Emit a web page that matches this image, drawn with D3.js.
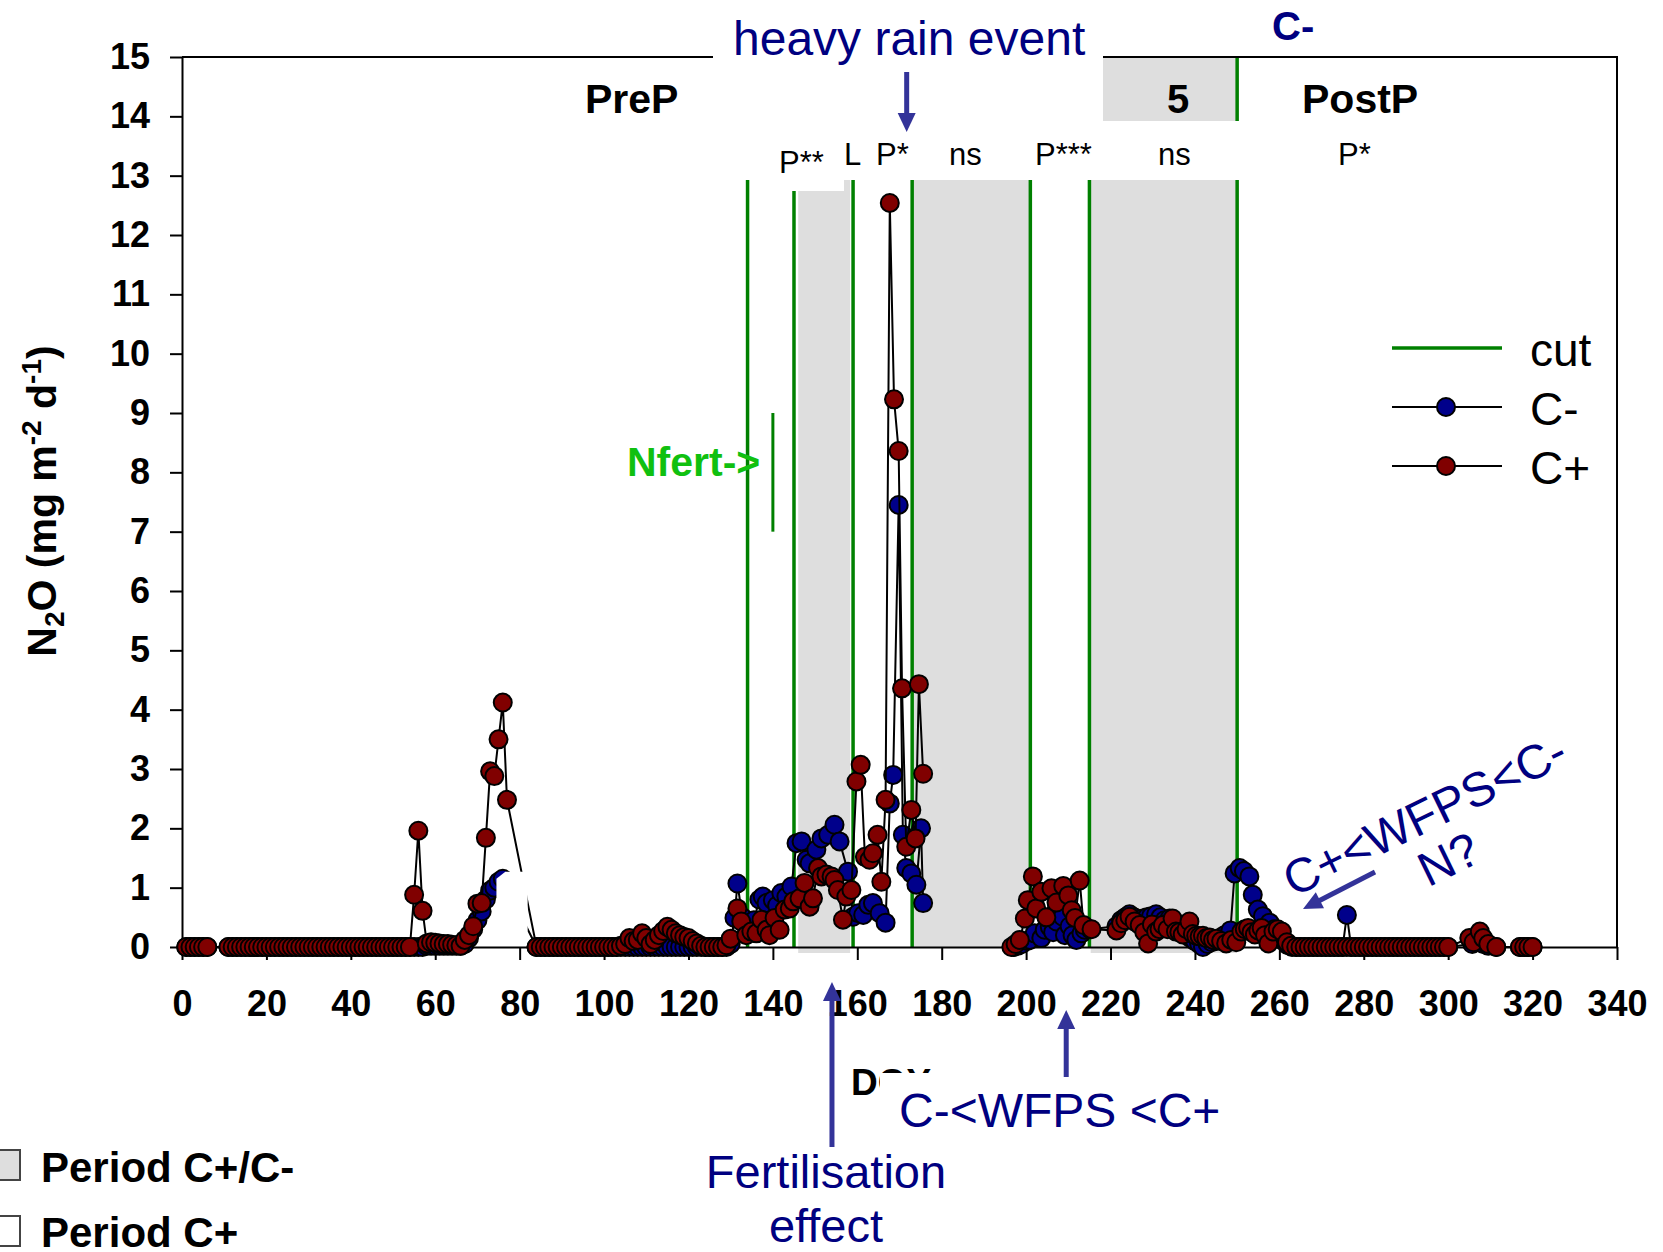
<!DOCTYPE html>
<html>
<head>
<meta charset="utf-8">
<script src="https://cdn.jsdelivr.net/npm/d3@7"></script>
<style>
  body { margin: 0; background: #fff; }
  svg { display: block; font-family: "Liberation Sans", Arial, sans-serif; }
  text { white-space: pre; }
</style>
</head>
<body>
<svg width="1663" height="1252"></svg>
<script>
// Daily N2O flux, C- (navy) and C+ (dark red). null breaks the line.
const doyCminus = [
  1, 2, 3, 4, 5, 6,
  11, 12, 13, 14, 15, 16, 17, 18, 19, 20,
  21, 22, 23, 24, 25, 26, 27, 28, 29, 30,
  31, 32, 33, 34, 35, 36, 37, 38, 39, 40,
  41, 42, 43, 44, 45, 46, 47, 48, 49, 50,
  51, 52, 53, 54, 55, 56, 57,
  58, 59, 60, 61, 62, 63, 64, 65, 66,
  67, 68, 69, 70, 71, 72, 73, 74, 75, 76, 77,
  84, 85, 86, 87, 88, 89, 90, 91, 92, 93,
  94, 95, 96, 97, 98, 99, 100, 101, 102, 103,
  104, 105, 106, 107, 108, 109, 110, 111, 112, 113,
  114, 115, 116, 117, 118, 119, 120, 121, 122, 123,
  124, 125, 126, 127, 128, 129, 130,
  130.9, 131.6, 132.8, 134, 135.5, 136.8, 137.6, 138.5, 140, 141,
  142, 143.2, 144.4, 145.6, 146.8, 148, 148.7, 150.3, 151.5, 153.1,
  154.6, 155.8, 157.8, 159, 160.2, 161.4, 162.6, 163.7, 165.3, 166.7,
  167.7, 168.5, 169.8, 170.8, 171.6, 172.8, 174, 175.1, 175.6,
  186,
  197, 198, 199, 200.2, 200.9, 202, 203.6, 204.4, 205.6, 206.4,
  207.2, 208.7, 209.2, 210.3, 211, 211.9, 213.1, 213.9, 215.2,
  221.4, 222.5, 223.5, 224.5, 225.6, 226.6, 227.6, 228.6, 229.6, 230.8,
  231.8, 232.8, 234, 235, 236, 237, 238, 239, 240, 241,
  241.9, 243, 244, 245, 246, 247, 248.4, 249.4, 250.6, 251.6,
  252.9, 253.7, 254.9, 256.1, 257.7, 258.8, 260, 261, 262,
  263, 264, 265, 266, 267, 268, 269, 270, 271, 272,
  273, 274, 275, 276, 277, 278, 279, 280, 281, 282,
  283, 284, 285, 286, 287, 288, 289, 290, 291, 292,
  293, 294, 295, 296, 297, 298, 299, 300,
  305.7, 307, 308.3, 309.5, 311.4,
  317, 318, 319, 320
];
const n2oCminus = [
  0, 0, 0, 0, 0, 0,
  0, 0, 0, 0, 0, 0, 0, 0, 0, 0,
  0, 0, 0, 0, 0, 0, 0, 0, 0, 0,
  0, 0, 0, 0, 0, 0, 0, 0, 0, 0,
  0, 0, 0, 0, 0, 0, 0, 0, 0, 0,
  0, 0, 0, 0, 0, 0, 0,
  0.02, 0.02, 0.02, 0.02, 0.02, 0.02, 0.02, 0.02, 0.02,
  0.05, 0.15, 0.3, 0.45, 0.6, 0.8, 0.95, 1.0, 1.1, 1.15, 1.0,
  0, 0, 0, 0, 0, 0, 0, 0, 0, 0,
  0, 0, 0, 0, 0, 0, 0, 0, 0, 0,
  0, 0, 0, 0, 0, 0, 0, 0, 0, 0,
  0, 0, 0, 0, 0, 0, 0, 0, 0, 0,
  0, 0, 0, 0, 0, 0, 0.05,
  0.49, 1.07, 0.5, 0.3, 0.45, 0.8, 0.85, 0.74, 0.79, 0.7,
  0.91, 0.85, 1.02, 1.75, 1.78, 1.47, 1.41, 1.64, 1.83, 1.89,
  2.06, 1.78, 1.27, 0.51, 0.57, 0.54, 0.71, 0.74, 0.57, 0.41,
  2.42, 2.9, 7.45, 1.89, 1.33, 1.24, 1.05, 2.0, 0.74,
  null,
  0, 0.02, 0.05, 0.1, 0.12, 0.23, 0.15, 0.29, 0.34, 0.25,
  0.43, 0.51, 0.2, 0.35, 0.2, 0.12, 0.23, 0.29, 0.3,
  0.35, 0.45, 0.5, 0.55, 0.5, 0.45, 0.48, 0.5, 0.52, 0.55,
  0.5, 0.45, 0.48, 0.4, 0.3, 0.25, 0.2, 0.15, 0.1, 0.05,
  0, 0.05, 0.08, 0.1, 0.15, 0.2, 0.28, 1.24, 1.33, 1.28,
  1.19, 0.88, 0.63, 0.52, 0.41, 0.3, 0.2, 0.1, 0.03,
  0, 0, 0, 0, 0, 0, 0, 0, 0, 0,
  0, 0, 0, 0.54, 0, 0, 0, 0, 0, 0,
  0, 0, 0, 0, 0, 0, 0, 0, 0, 0,
  0, 0, 0, 0, 0, 0, 0, 0,
  0.05, 0.1, 0.05, 0.02, 0,
  0, 0, 0, 0
];

const doyCplus = [
  1, 2, 3, 4, 5, 6,
  11, 12, 13, 14, 15, 16, 17, 18, 19, 20,
  21, 22, 23, 24, 25, 26, 27, 28, 29, 30,
  31, 32, 33, 34, 35, 36, 37, 38, 39, 40,
  41, 42, 43, 44, 45, 46, 47, 48, 49, 50,
  51, 52, 53, 54,
  55, 56, 57,
  58, 59, 60, 61, 62, 63, 64, 65, 66,
  67, 68, 69, 70, 71, 72, 73, 74, 75, 76, 77,
  84, 85, 86, 87, 88, 89, 90, 91, 92, 93,
  94, 95, 96, 97, 98, 99, 100, 101, 102, 103,
  104, 105, 106, 107, 108, 109, 110, 111, 112, 113,
  114, 115, 116, 117, 118, 119, 120, 121, 122, 123,
  124, 125, 126, 127, 128, 129, 130,
  131.6, 132.5, 133.7, 134.9, 136.1, 137.3, 138.5, 139.2, 140.4, 141.6,
  142.8, 144, 144.8, 146.3, 147.5, 148.7, 149.5, 150.7, 151.5, 152.7,
  153.9, 154.6, 155.4, 156.6, 157.4, 158.6, 159.8, 160.8, 161.8, 162.9,
  163.7, 164.8, 165.7, 166.7, 167.7, 168.7, 169.8, 170.6, 171.6, 172.8,
  173.8, 174.6, 175.6,
  186,
  196.5, 197.5, 198.5, 199.7, 200.4, 201.6, 202.4, 203.6, 204.8, 206,
  207.2, 208.8, 210, 210.8, 211.6, 212.7, 213.6, 215.5,
  221.4, 222.5, 223.5, 224.5, 225.7, 226.9, 228, 228.9, 229.8, 230.8,
  231.6, 232.4, 233.5, 234.7, 235.5, 236.3, 237.1, 238, 238.7, 239.5,
  240.3, 241.1, 241.9, 242.7, 243.5, 244.3, 245.1, 246.2, 247.4, 248.6,
  249.8, 251, 251.8, 252.6, 253.4, 254.2, 255, 255.8, 256.6, 257.4,
  258.6, 259.6, 260.6, 261.8, 262.8,
  264, 265, 266, 267, 268, 269, 270, 271, 272, 273,
  274, 275, 276, 277, 278, 279, 280, 281, 282, 283,
  284, 285, 286, 287, 288, 289, 290, 291, 292, 293,
  294, 295, 296, 297, 298, 299, 300,
  305, 306, 307.5, 308.3, 309.5, 311.4,
  317, 318, 319, 320
];
const n2oCplus = [
  0, 0, 0, 0, 0, 0,
  0, 0, 0, 0, 0, 0, 0, 0, 0, 0,
  0, 0, 0, 0, 0, 0, 0, 0, 0, 0,
  0, 0, 0, 0, 0, 0, 0, 0, 0, 0,
  0, 0, 0, 0, 0, 0, 0, 0, 0, 0,
  0, 0, 0, 0,
  0.88, 1.96, 0.61,
  0.06, 0.08, 0.07, 0.06, 0.05, 0.05, 0.04, 0.03, 0.02,
  0.12, 0.2, 0.35, 0.73, 0.74, 1.84, 2.96, 2.88, 3.5, 4.12, 2.48,
  0, 0, 0, 0, 0, 0, 0, 0, 0, 0,
  0, 0, 0, 0, 0, 0, 0, 0, 0, 0,
  0.02, 0.05, 0.15, 0.1, 0.12, 0.23, 0.15, 0.05, 0.12, 0.2,
  0.27, 0.34, 0.29, 0.23, 0.2, 0.17, 0.15, 0.1, 0.06, 0.02,
  0, 0, 0, 0, 0, 0.03, 0.14,
  0.65, 0.43, 0.2, 0.26, 0.23, 0.46, 0.29, 0.2, 0.49, 0.29,
  0.63, 0.65, 0.77, 0.82, 1.08, 0.68, 0.82, 1.33, 1.19, 1.22,
  1.19, 1.13, 0.96, 0.46, 0.85, 0.96, 2.79, 3.07, 1.52, 1.47,
  1.58, 1.89, 1.1, 2.48, 12.54, 9.23, 8.36, 4.36, 1.69, 2.31,
  1.83, 4.43, 2.92,
  null,
  0, 0.05, 0.12, 0.48, 0.79, 1.19, 0.65, 0.93, 0.5, 0.99,
  0.75, 1.03, 0.87, 0.62, 0.49, 1.12, 0.37, 0.3,
  0.28, 0.4, 0.45, 0.51, 0.43, 0.37, 0.25, 0.06, 0.38, 0.26,
  0.3, 0.37, 0.3, 0.48, 0.26, 0.25, 0.21, 0.3, 0.43, 0.22,
  0.19, 0.18, 0.19, 0.15, 0.16, 0.12, 0.14, 0.1, 0.06, 0.12,
  0.08, 0.26, 0.3, 0.32, 0.25, 0.21, 0.28, 0.32, 0.2, 0.06,
  0.26, 0.3, 0.26, 0.08, 0.02,
  0, 0, 0, 0, 0, 0, 0, 0, 0, 0,
  0, 0, 0, 0, 0, 0, 0, 0, 0, 0,
  0, 0, 0, 0, 0, 0, 0, 0, 0, 0,
  0, 0, 0, 0, 0, 0, 0,
  0.15, 0.08, 0.26, 0.15, 0.05, 0,
  0, 0, 0, 0
];

const cutDoys = [134, 145, 159, 173, 201, 215, 250];
const periods = [[146, 158.3], [173.3, 201], [215.3, 249.8]];  // Period C+/C- shading
const nfertMark = [140, 7, 9];  // doy, from, to
const xTicks = [0, 20, 40, 60, 80, 100, 120, 140, 160, 180, 200, 220, 240, 260, 280, 300, 320, 340];
const yTicks = [0, 1, 2, 3, 4, 5, 6, 7, 8, 9, 10, 11, 12, 13, 14, 15];
const testLabels = ['P**', 'L', 'P*', 'ns', 'P***', 'ns', 'P*'];

const NAVY = '#000080', ARROW = '#333399', CUT = '#008000';

const cMinus = doyCminus.map((d, i) => ({doy: d, v: n2oCminus[i]}));
const cPlus = doyCplus.map((d, i) => ({doy: d, v: n2oCplus[i]}));

const svg = d3.select('svg');

const x = d3.scaleLinear().domain([0, 340]).range([182, 1617]);
const y = d3.scaleLinear().domain([0, 15]).range([947, 57]);

// grey periods
svg.append('g').selectAll('rect')
  .data(periods)
  .enter().append('rect')
    .attr('x', p => x(p[0]))
    .attr('y', y(15))
    .attr('width', p => x(p[1]) - x(p[0]))
    .attr('height', (p, i) => y(0) - y(15) + (i === 1 ? 0 : 6))
    .attr('fill', '#dedede');

// cut lines
svg.append('g').selectAll('line')
  .data(cutDoys)
  .enter().append('line')
    .attr('x1', d => x(d)).attr('x2', d => x(d))
    .attr('y1', y(15)).attr('y2', y(0))
    .attr('stroke', CUT)
    .attr('stroke-width', 3.5);

svg.append('line')
  .attr('x1', x(nfertMark[0])).attr('x2', x(nfertMark[0]))
  .attr('y1', y(nfertMark[1])).attr('y2', y(nfertMark[2]))
  .attr('stroke', CUT)
  .attr('stroke-width', 3);

// axes
const yAxis = svg.append('g')
  .attr('transform', `translate(${x(0)},0)`)
  .call(d3.axisLeft(y).tickValues(yTicks).tickSize(12).tickSizeOuter(0).tickPadding(20));
const xAxis = svg.append('g')
  .attr('transform', `translate(0,${y(0)})`)
  .call(d3.axisBottom(x).tickValues(xTicks).tickSize(13).tickSizeOuter(0).tickPadding(30));
[yAxis, xAxis].forEach(a => {
  a.attr('font-family', '"Liberation Sans", Arial, sans-serif')
    .attr('font-size', 36)
    .attr('font-weight', 'bold');
  a.selectAll('path, line').attr('stroke', '#000').attr('stroke-width', 2);
  a.selectAll('text').attr('fill', '#000');
});

svg.append('path')
  .attr('d', `M${x(0)},${y(15)}H${x(340)}V${y(0)}`)
  .attr('fill', 'none')
  .attr('stroke', '#000')
  .attr('stroke-width', 2);

// white text boxes that sit on top of the frame
[[713, 0, 390, 121], [713, 121, 527, 59], [760, 180, 84, 11]].forEach(b => {
  svg.append('rect')
    .attr('x', b[0]).attr('y', b[1]).attr('width', b[2]).attr('height', b[3])
    .attr('fill', '#fff');
});

// series
const line = d3.line()
  .defined(d => d.v !== null)
  .x(d => x(d.doy))
  .y(d => y(d.v));

function drawSeries(data, fill) {
  const g = svg.append('g');
  g.append('path')
    .datum(data)
    .attr('fill', 'none')
    .attr('stroke', '#000')
    .attr('stroke-width', 2)
    .attr('stroke-linejoin', 'round')
    .attr('d', line);
  g.selectAll('circle')
    .data(data.filter(d => d.v !== null))
    .enter().append('circle')
      .attr('cx', d => x(d.doy))
      .attr('cy', d => y(d.v))
      .attr('r', 9)
      .attr('fill', fill)
      .attr('stroke', '#000')
      .attr('stroke-width', 2);
}
drawSeries(cMinus, '#00008b');
drawSeries(cPlus, '#800000');

// white patch left over from a text box
svg.append('polygon')
  .attr('points', [[74.5, 1.15], [76.6, 1.27], [81.9, 1.27], [81.9, 0.26], [74.5, 0.26]]
    .map(p => [x(p[0]), y(p[1])]).join(' '))
  .attr('fill', '#fff');

function text(str, px, py, size, opts = {}) {
  return svg.append('text')
    .attr('x', px).attr('y', py)
    .attr('font-size', size)
    .attr('font-weight', opts.bold ? 'bold' : 'normal')
    .attr('fill', opts.fill || '#000')
    .attr('text-anchor', opts.anchor || 'start')
    .text(str);
}

function arrow(x1, y1, x2, y2) {
  const len = Math.hypot(x2 - x1, y2 - y1),
        ux = (x2 - x1) / len, uy = (y2 - y1) / len,
        hl = 19, hw = 9,
        bx = x2 - ux * hl, by = y2 - uy * hl;
  svg.append('line')
    .attr('x1', x1).attr('y1', y1)
    .attr('x2', bx + ux * 2).attr('y2', by + uy * 2)
    .attr('stroke', ARROW).attr('stroke-width', 5);
  svg.append('polygon')
    .attr('points', [[x2, y2], [bx - uy * hw, by + ux * hw], [bx + uy * hw, by - ux * hw]].join(' '))
    .attr('fill', ARROW);
}

// top labels
text('heavy rain event', 733, 55, 48, {fill: NAVY});
arrow(x(171.7), 72, x(171.7), 132);
text('PreP', 585, 113, 41, {bold: true});
text('5', 1167, 113, 40, {bold: true});
text('PostP', 1302, 113, 41, {bold: true});
text('C-', 1272, 40, 40, {bold: true, fill: NAVY});
[[779, 173], [844, 165], [876, 165], [949, 165], [1035, 165], [1158, 165], [1338, 165]]
  .forEach((p, i) => text(testLabels[i], p[0], p[1], 31));

text('Nfert->', 627, 476, 41, {bold: true, fill: '#10c010'});

// legend
const leg = [
  {label: 'cut', y: 348, tb: 366},
  {label: 'C-', y: 407, tb: 425, fill: '#00008b'},
  {label: 'C+', y: 466, tb: 484, fill: '#800000'}
];
leg.forEach(l => {
  svg.append('line')
    .attr('x1', 1392).attr('x2', 1502)
    .attr('y1', l.y).attr('y2', l.y)
    .attr('stroke', l.fill ? '#000' : CUT)
    .attr('stroke-width', l.fill ? 2 : 3.5);
  if (l.fill) {
    svg.append('circle')
      .attr('cx', 1446).attr('cy', l.y).attr('r', 9)
      .attr('fill', l.fill).attr('stroke', '#000').attr('stroke-width', 2);
  }
  text(l.label, 1530, l.tb, 46);
});

// y title
const yt = svg.append('text')
  .attr('transform', 'translate(56,501) rotate(-90)')
  .attr('text-anchor', 'middle')
  .attr('font-size', 41)
  .attr('font-weight', 'bold');
yt.append('tspan').text('N');
yt.append('tspan').attr('font-size', 28).attr('dy', 8).text('2');
yt.append('tspan').attr('dy', -8).text('O (mg m');
yt.append('tspan').attr('font-size', 28).attr('dy', -15).text('-2');
yt.append('tspan').attr('dy', 15).text(' d');
yt.append('tspan').attr('font-size', 28).attr('dy', -15).text('-1');
yt.append('tspan').attr('dy', 15).text(')');

// x title, partly hidden under the WFPS box
text('DOY', 851, 1095, 37, {bold: true});
svg.append('rect')
  .attr('x', 880).attr('y', 1073).attr('width', 360).attr('height', 67)
  .attr('fill', '#fff');
text('C-<WFPS <C+', 899, 1127, 48, {fill: NAVY});
arrow(x(209.5), 1077, x(209.5), 1010);

text('Fertilisation', 826, 1188, 47, {fill: NAVY, anchor: 'middle'});
text('effect', 826, 1242, 47, {fill: NAVY, anchor: 'middle'});
arrow(x(154), 1147, x(154), 982);

// rotated note
const rot = svg.append('g').attr('transform', 'translate(1432,830) rotate(-26)');
rot.append('text').attr('text-anchor', 'middle').attr('font-size', 48).attr('fill', NAVY)
  .text('C+<WFPS<C-');
rot.append('text').attr('x', 2).attr('y', 50).attr('text-anchor', 'middle').attr('font-size', 48).attr('fill', NAVY)
  .text('N?');
arrow(1375, 872, 1303, 909);

// period legend
[['Period C+/C-', 1150, '#dedede', 1182], ['Period C+', 1216, '#fff', 1247]].forEach(p => {
  svg.append('rect')
    .attr('x', -6).attr('y', p[1]).attr('width', 26).attr('height', 30)
    .attr('fill', p[2]).attr('stroke', '#444').attr('stroke-width', 2);
  text(p[0], 41, p[3], 42, {bold: true});
});
</script>
</body>
</html>
